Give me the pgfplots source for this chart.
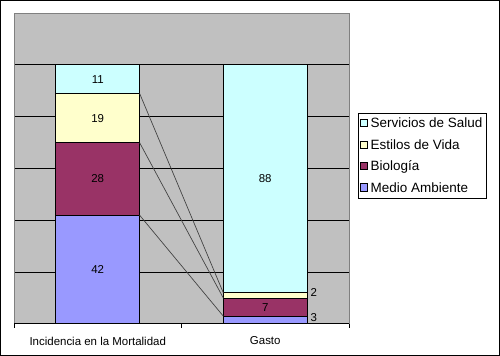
\documentclass[border=0pt]{standalone}
\usepackage{pgfplots}
\pgfplotsset{compat=1.18}
\usepackage{fontspec}
\setmainfont{Liberation Sans}
\definecolor{cMA}{HTML}{9999FF}
\definecolor{cBI}{HTML}{993366}
\definecolor{cEV}{HTML}{FFFFCC}
\definecolor{cSS}{HTML}{CCFFFF}
\definecolor{plotgray}{HTML}{C0C0C0}
\definecolor{edgegray}{HTML}{808080}
\begin{document}
\begin{tikzpicture}[font=\fontsize{8.6}{10}\selectfont]
\draw[line width=0.75pt] (0.375pt,0.375pt) rectangle (374.625pt,266.625pt);
\pgfplotsset{
  common/.style={
    at={(10.5pt,24pt)}, anchor=south west, scale only axis,
    width=251.25pt, height=232.5pt,
    xmin=-0.5, xmax=1.5, ymin=0, ymax=119.69,
  }
}
\begin{axis}[common,
  ybar stacked, bar width=63pt,
  axis background/.style={fill=plotgray},
  axis line style={edgegray, line width=0.75pt},
  xtick={0,1}, xticklabels={Incidencia en la Mortalidad, Gasto},
  major x tick style={draw=none},
  xticklabel style={yshift=-6pt},
  extra x ticks={-0.5,0.5,1.5}, extra x tick labels={},
  extra x tick style={major tick length=3pt, tick align=outside, tick pos=bottom, major x tick style={draw=black, line width=0.75pt}},
  ytick={0,20,40,60,80,100}, yticklabels={}, ymajorgrids,
  major y tick style={draw=none},
  major grid style={black, line width=0.75pt},
  legend style={at={(1.027,0.681)}, anchor=north west, draw=black, fill=white,
    line width=0.75pt, font=\fontsize{10.1}{12}\selectfont, row sep=3.2pt,
    inner xsep=1pt, inner ysep=1.5pt,
    /tikz/every even column/.append style={column sep=0pt}},
  legend cell align=left,
  reverse legend,
  legend image code/.code={\draw[#1,draw=black,line width=0.75pt] (0pt,-2.2pt) rectangle (5.4pt,3.2pt);},
]
\addplot[fill=cMA, draw=black, line width=0.75pt] coordinates {(0,42) (1,3)};
\addplot[fill=cBI, draw=black, line width=0.75pt] coordinates {(0,28) (1,7)};
\addplot[fill=cEV, draw=black, line width=0.75pt] coordinates {(0,19) (1,2)};
\addplot[fill=cSS, draw=black, line width=0.75pt] coordinates {(0,11) (1,88)};
\legend{Medio Ambiente, Biología, Estilos de Vida, Servicios de Salud}
\draw[black, line width=0.75pt] (rel axis cs:0,0) -- (rel axis cs:1,0);
\end{axis}
\begin{axis}[common, hide axis]
\addplot[black!75, line width=0.5pt] coordinates {(0.25,42) (0.75,3)};
\addplot[black!75, line width=0.5pt] coordinates {(0.25,70) (0.75,10)};
\addplot[black!75, line width=0.5pt] coordinates {(0.25,89) (0.75,12)};
\node at (axis cs:0,21) {42};
\node at (axis cs:0,56) {28};
\node at (axis cs:0,79.5) {19};
\node at (axis cs:0,94.5) {11};
\node at (axis cs:1,56) {88};
\node at (axis cs:1,6.5) {7};
\node at (axis cs:1.29,12) {2};
\node at (axis cs:1.29,2.3) {3};
\end{axis}
\end{tikzpicture}
\end{document}
